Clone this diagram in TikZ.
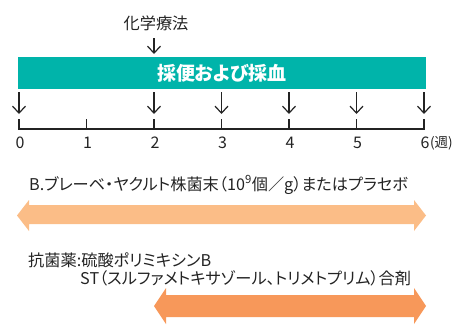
\documentclass[tikz,border=0pt]{standalone}
\usepackage{fontspec}
\setmainfont[RawFeature=+palt]{Noto Sans CJK JP}
\usetikzlibrary{arrows.meta}
\definecolor{tealbar}{RGB}{0,180,170}
\definecolor{lightor}{RGB}{251,189,135}
\definecolor{darkor}{RGB}{247,152,90}
\definecolor{ink}{RGB}{35,35,35}
\tikzset{
  smallarrow/.style={draw=ink, line width=1.2pt, -{Straight Barb[length=7pt,width=13pt,line width=1.2pt]}},
  axisline/.style={draw=ink, line width=1.6pt},
  lbl/.style={inner sep=0pt, text=ink, font=\fontsize{16.2}{18}\selectfont},
  numlbl/.style={inner sep=0pt, text=ink, font=\fontsize{16}{18}\selectfont},
  barbox/.style={fill=tealbar, minimum width=408pt, minimum height=32pt, inner sep=0pt, text=white, font=\bfseries\fontsize{19}{20}\selectfont},
}
\begin{document}
\begin{tikzpicture}[x=1pt,y=-1pt]
\useasboundingbox (0,0) rectangle (454,324);
% chemotherapy
\node[lbl] (chemo) at (156,23) {化学療法};
\coordinate (chemotop) at (154,38);
\node[barbox] (bar) at (222,73) {採便および採血};
\coordinate (chemobot) at (154,54);
\draw[smallarrow] (chemotop) -- (chemobot);
% axis
\foreach \i in {0,...,6} {
  \coordinate (t\i) at ({19+\i*67.5},119);
  \coordinate (b\i) at ({19+\i*67.5},129);
  \draw[axisline] (t\i) -- (b\i);
}
\draw[axisline, line cap=rect] (b0) -- (b6);
\foreach \i in {0,...,5} {
  \node[numlbl] (n\i) at ({20+\i*67.5},143) {\i};
}
\node[numlbl] (n6) at (425,143) {6};
\node[inner sep=0pt, text=ink, font=\fontsize{13.5}{15}\selectfont, anchor=west] (wk) at ([xshift=0.3pt]n6.east) {(週)};
% sampling arrows
\foreach \i in {0,2,3,4,5,6} {
  \coordinate (a\i) at ({19+\i*67.5},92);
  \coordinate (e\i) at ({19+\i*67.5},114);
  \draw[smallarrow] (a\i) -- (e\i);
}
% probiotic arrow
\node[lbl, anchor=west] (prob) at (29,185) {B.ブレーベ・ヤクルト株菌末（10\textsuperscript{9}個／g）またはプラセボ};
\fill[lightor] (17,215.5) -- (29,200) -- (29,205) -- (414,205) -- (414,200) -- (426,215.5) -- (414,231) -- (414,224) -- (29,224) -- (29,231) -- cycle;
% antibiotic arrow
\node[lbl, anchor=west] (ab1) at (28,260) {抗菌薬:硫酸ポリミキシンB};
\node[lbl, anchor=west] (ab2) at (80,278) {ST（スルファメトキサゾール、トリメトプリム）合剤};
\fill[darkor] (154,306) -- (166,288) -- (166,295) -- (414,295) -- (414,288) -- (426,306) -- (414,324) -- (414,317) -- (166,317) -- (166,324) -- cycle;
\end{tikzpicture}
\end{document}
